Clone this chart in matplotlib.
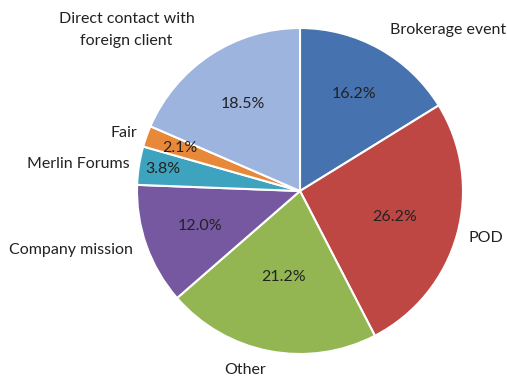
import numpy as np
import matplotlib.pyplot as plt

# Share of contacts by source
sources = ['Brokerage event', 'POD', 'Other', 'Company mission',
           'Merlin Forums', 'Fair', 'Direct contact with\nforeign client']
shares = [16.2, 26.2, 21.2, 12.0, 3.8, 2.1, 18.5]
colors = ['#4672B0', '#BE4743', '#93B653', '#7558A0',
          '#3EA3BE', '#E8893A', '#9DB4DE']

# radial placement of the category names and the percentages
name_dist = [1.13, 1.07, 1.12, 1.09, 1.06, 1.06, 1.18]
pct_dist = [0.68, 0.60, 0.54, 0.65, 0.85, 0.78, 0.64]

plt.rcParams['font.family'] = ['Lato', 'DejaVu Sans']

fig = plt.figure(figsize=(5.07, 3.81), dpi=100)
W, H = 507, 381
cx, cy, r = 300, 191, 163
ax = fig.add_axes([(cx - r) / W, (H - cy - r) / H, 2 * r / W, 2 * r / H])

wedges, texts, autotexts = ax.pie(
    shares, labels=sources, colors=colors, startangle=90, counterclock=False,
    autopct='%.1f%%', pctdistance=0.65, labeldistance=1.13, radius=1,
    wedgeprops=dict(edgecolor='white', linewidth=1.5),
    textprops=dict(fontsize=11.5, color='#222222'))

for w, t, p, dn, dp in zip(wedges, texts, autotexts, name_dist, pct_dist):
    ang = np.deg2rad((w.theta1 + w.theta2) / 2)
    t.set_position((dn * np.cos(ang), dn * np.sin(ang)))
    t.set_multialignment('center')
    t.set_linespacing(1.75)
    p.set_position((dp * np.cos(ang), dp * np.sin(ang)))

ax.set_xlim(-1, 1)
ax.set_ylim(-1, 1)
ax.set_aspect('equal')
ax.axis('off')

fig.savefig('out.png', dpi=100)
